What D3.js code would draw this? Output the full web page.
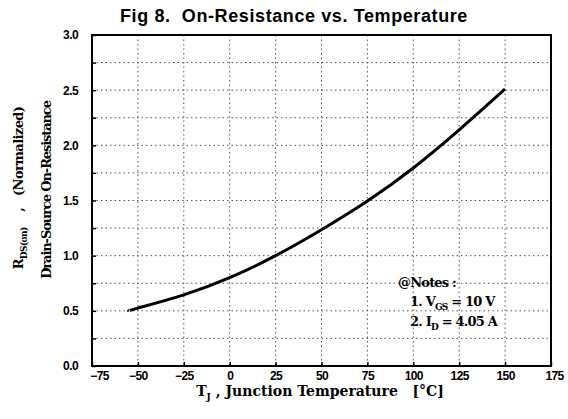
<!DOCTYPE html>
<html>
<head>
<meta charset="utf-8">
<script src="https://cdn.jsdelivr.net/npm/d3@7"></script>
<style>
  body { margin: 0; background: #fff; }
  text { fill: #000; white-space: pre; }
</style>
</head>
<body>
<script>
var width = 568,
    height = 419;

// curve: junction temp [C] vs normalized Rds(on)
var temps = [-55, -50, -25, 0, 25, 50, 75, 100, 125, 150];
var rdson = [0.50, 0.525, 0.645, 0.80, 1.00, 1.235, 1.495, 1.795, 2.14, 2.51];

var xTicks = [-75, -50, -25, 0, 25, 50, 75, 100, 125, 150, 175];
var yTicks = [0, 0.5, 1.0, 1.5, 2.0, 2.5, 3.0];
var yGrid = d3.range(0.25, 3.0, 0.25);
var notes = ["@Notes :", "1. V", "2. I"];

var margin = {top: 35, right: 17, bottom: 53, left: 92};
var w = width - margin.left - margin.right,
    h = height - margin.top - margin.bottom;

var x = d3.scaleLinear().domain([-75, 175]).range([0, w]);
var y = d3.scaleLinear().domain([0, 3]).range([h, 0]);

var svg = d3.select("body").append("svg")
    .attr("width", width)
    .attr("height", height);

svg.append("text")
    .attr("x", 294).attr("y", 22)
    .attr("text-anchor", "middle")
    .style("font", "bold 18px 'Liberation Sans', Arial, sans-serif")
    .style("letter-spacing", "0.6px")
    .text("Fig 8.  On-Resistance vs. Temperature");

var g = svg.append("g")
    .attr("transform", "translate(" + margin.left + "," + margin.top + ")");

// grid
g.selectAll(".vgrid")
    .data(xTicks.slice(1, -1))
  .enter().append("line")
    .attr("x1", function(d) { return x(d); })
    .attr("x2", function(d) { return x(d); })
    .attr("y1", 0).attr("y2", h)
    .style("stroke", "#555")
    .style("stroke-dasharray", "1.5,3");

g.selectAll(".hgrid")
    .data(yGrid)
  .enter().append("line")
    .attr("x1", 0).attr("x2", w)
    .attr("y1", function(d) { return y(d); })
    .attr("y2", function(d) { return y(d); })
    .style("stroke", "#555")
    .style("stroke-dasharray", "1.5,3");

// axes, ticks pointing inward
var xAxis = g.append("g")
    .attr("transform", "translate(0," + h + ")")
    .call(d3.axisBottom(x).tickValues(xTicks).tickSizeInner(-4).tickSizeOuter(0).tickPadding(5)
      .tickFormat(function(d) { return d < 0 ? "\u2212" + (-d) : d; }));

var yAxis = g.append("g")
    .call(d3.axisLeft(y).tickValues(d3.range(0, 3.01, 0.25)).tickSizeInner(-4).tickSizeOuter(0).tickPadding(14)
      .tickFormat(function(d) { return yTicks.indexOf(d) >= 0 ? d3.format(".1f")(d) : ""; }));

[xAxis, yAxis].forEach(function(a) {
  a.select(".domain").remove();
  a.selectAll("line").style("stroke", "#000").style("stroke-width", 1.5);
  a.selectAll("text")
    .style("font", "bold 12px 'Liberation Sans', Arial, sans-serif")
    .style("letter-spacing", "-0.6px");
});
xAxis.selectAll("text").filter(function(d) { return d === -75; }).attr("dx", 7);
xAxis.selectAll("text").filter(function(d) { return d === 175; }).attr("dx", 3);

g.append("rect")
    .attr("width", w).attr("height", h)
    .style("fill", "none")
    .style("stroke", "#000")
    .style("stroke-width", 2);

// curve
var line = d3.line()
    .x(function(d, i) { return x(temps[i]); })
    .y(function(d) { return y(d); })
    .curve(d3.curveNatural);

g.append("path")
    .datum(rdson)
    .attr("d", line)
    .style("fill", "none")
    .style("stroke", "#000")
    .style("stroke-width", 3);

var labelFont = "bold 13px 'DejaVu Serif', 'Liberation Serif', serif";

// notes
var nt = svg.append("g").style("font", labelFont).style("letter-spacing", "-0.8px");
nt.append("text").attr("x", 398).attr("y", 287).text(notes[0]);
var n1 = nt.append("text").attr("x", 410).attr("y", 306);
n1.append("tspan").text(notes[1]);
n1.append("tspan").attr("dy", 4).style("font-size", "9px").text("GS");
n1.append("tspan").attr("dy", -4).text(" = 10 V");
var n2 = nt.append("text").attr("x", 410).attr("y", 326);
n2.append("tspan").text(notes[2]);
n2.append("tspan").attr("dy", 4).style("font-size", "9px").text("D");
n2.append("tspan").attr("dy", -4).text(" = 4.05 A");

// x title
var xt = svg.append("text")
    .attr("x", 320).attr("y", 396)
    .attr("text-anchor", "middle")
    .style("font", labelFont)
    .style("font-size", "14px")
    .style("letter-spacing", "0px");
xt.append("tspan").text("T");
xt.append("tspan").attr("dy", 4).style("font-size", "9px").text("J");
xt.append("tspan").attr("dy", -4).text(" , Junction Temperature   [\u00B0C]");

// y title, two lines
var yt1 = svg.append("text")
    .attr("transform", "translate(23,188) rotate(-90)")
    .attr("text-anchor", "middle")
    .style("font", labelFont)
    .style("letter-spacing", "-0.6px");
yt1.append("tspan").text("R");
yt1.append("tspan").attr("dy", 4).style("font-size", "9px").text("DS(on)");
yt1.append("tspan").attr("dy", -4).text("    ,   (Normalized)");

svg.append("text")
    .attr("transform", "translate(51,190) rotate(-90)")
    .attr("text-anchor", "middle")
    .style("font", labelFont)
    .style("letter-spacing", "-1.1px")
    .text("Drain-Source On-Resistance");
</script>
</body>
</html>
